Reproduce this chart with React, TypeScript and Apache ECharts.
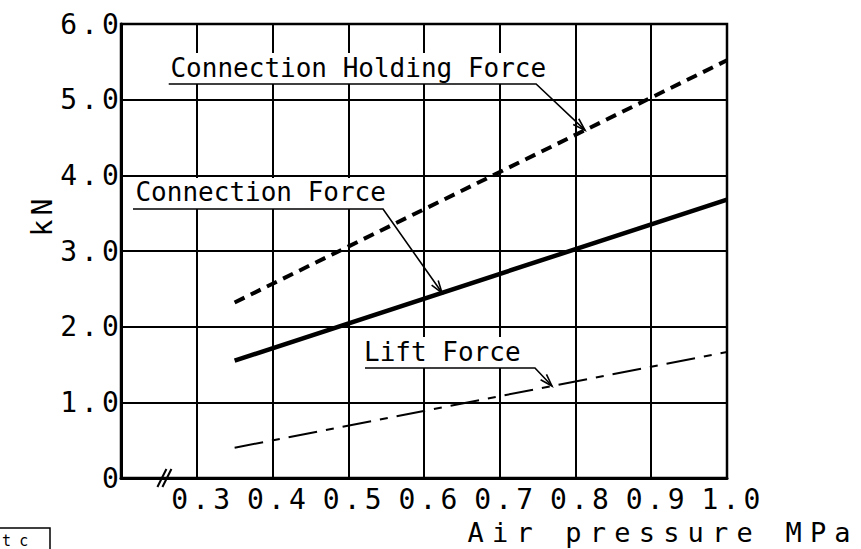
import React, { useEffect, useRef } from 'react';
import * as echarts from 'echarts';

// ---- data ----
const pressure = [0.35, 1.0]; // MPa
const holdingForce = [2.32, 5.52]; // kN, Connection Holding Force
const connectionForce = [1.55, 3.68]; // kN, Connection Force
const liftForce = [0.4, 1.665]; // kN, Lift Force

const xTicks = [0.3, 0.4, 0.5, 0.6, 0.7, 0.8, 0.9, 1.0];
const xTickLabels = ['0.3', '0.4', '0.5', '0.6', '0.7', '0.8', '0.9', '1.0'];
const yTicks = [0, 1, 2, 3, 4, 5, 6];
const yTickLabels = ['0', '1.0', '2.0', '3.0', '4.0', '5.0', '6.0'];

const seriesNames = ['Connection Holding Force', 'Connection Force', 'Lift Force'];
const xAxisTitle = 'Air pressure MPa';
const yAxisTitle = 'kN';
const cornerStamp = 'tc';

// ---- annotation layout (data space) ----
const annoLayout = [
  { text: [0.2653, 5.425], underline: [0.263, 0.748, 5.207], tipX: 0.8125 },
  { text: [0.2191, 3.78], underline: [0.2158, 0.5459, 3.555], tipX: 0.6238 },
  { text: [0.5208, 1.665], underline: [0.5221, 0.7465, 1.454], tipX: 0.769 },
];

const MONO = "'DejaVu Sans Mono', monospace";
const MONO_WIDE = "'DejaVu Sans Mono', 'Liberation Mono', monospace";

const css = `
text[style*="28px"] { letter-spacing: 4.1px; }
text[style*="Liberation Mono"] { letter-spacing: 8.2px; }
`;

function lookup(v: number, ticks: number[], labels: string[]) {
  for (let i = 0; i < ticks.length; i++) if (Math.abs(v - ticks[i]) < 1e-6) return labels[i];
  return '';
}

function valueAt(xs: number[], ys: number[], x: number) {
  for (let i = 0; i < xs.length - 1; i++) {
    if (x >= xs[i] && x <= xs[i + 1]) {
      const t = (x - xs[i]) / (xs[i + 1] - xs[i]);
      return ys[i] + t * (ys[i + 1] - ys[i]);
    }
  }
  return ys[ys.length - 1];
}

function textStyle(text: string, fontFamily: string, fontSize: number) {
  return {
    text, fontFamily, fontSize, fill: '#000',
    align: 'left', verticalAlign: 'middle', textAlign: 'left', textVerticalAlign: 'middle',
  };
}

export default function App() {
  const ref = useRef<HTMLDivElement>(null);
  useEffect(() => {
    const el = ref.current!;
    const chart = echarts.init(el, null, { renderer: 'svg' });
    const seriesData = [holdingForce, connectionForce, liftForce];
    const lineStyles: any[] = [
      { color: '#000', width: 4, type: [11, 7] },
      { color: '#000', width: 4.5, type: 'solid' },
      { color: '#000', width: 2, type: [29, 9, 8, 9] },
    ];
    chart.setOption({
      animation: false,
      backgroundColor: '#fff',
      grid: {
        left: 121, top: 24, right: 134, bottom: 71,
        show: true, borderColor: '#000', borderWidth: 2.5, backgroundColor: 'transparent',
      },
      xAxis: {
        type: 'value', min: 0.2, max: 1.0, interval: 0.1,
        axisLine: { lineStyle: { color: '#000', width: 3 } },
        axisTick: { show: false },
        axisLabel: {
          formatter: (v: number) => lookup(v, xTicks, xTickLabels),
          fontFamily: MONO, fontSize: 28, color: '#000', margin: 7.5,
          padding: [0, 0, 0, 12],
        },
        splitLine: { show: true, lineStyle: { color: '#000', width: 2 } },
      },
      yAxis: {
        type: 'value', min: 0, max: 6, interval: 1,
        axisLine: { show: true, lineStyle: { color: '#000', width: 3 } },
        axisTick: { show: false },
        axisLabel: {
          formatter: (v: number) => lookup(v, yTicks, yTickLabels),
          fontFamily: MONO, fontSize: 28, color: '#000', margin: -2,
        },
        splitLine: { show: true, lineStyle: { color: '#000', width: 2 } },
      },
      series: seriesData.map((ys, i) => ({
        name: seriesNames[i],
        type: 'line',
        data: pressure.map((p, j) => [p, ys[j]]),
        symbol: 'none',
        silent: true,
        lineStyle: lineStyles[i],
        z: 3,
      })),
    });

    const px = (p: number[]) => chart.convertToPixel({ gridIndex: 0 }, p) as number[];
    const graphics: any[] = [];
    annoLayout.forEach((a, i) => {
      const t = px(a.text);
      const u0 = px([a.underline[0], a.underline[2]]);
      const u1 = px([a.underline[1], a.underline[2]]);
      const tip = px([a.tipX, valueAt(pressure, seriesData[i], a.tipX)]);
      graphics.push({
        type: 'rect', silent: true, z: 1,
        shape: { x: u0[0], y: u0[1] - 31, width: u1[0] - u0[0], height: 31 },
        style: { fill: '#fff' },
      });
      graphics.push({
        type: 'text', x: t[0], y: t[1], z: 10, silent: true,
        style: textStyle(seriesNames[i], MONO, 26),
      });
      graphics.push({
        type: 'polyline', z: 10, silent: true,
        shape: { points: [u0, u1, tip] },
        style: { stroke: '#000', lineWidth: 1.6, fill: null },
      });
      const dx = tip[0] - u1[0], dy = tip[1] - u1[1];
      const len = Math.hypot(dx, dy);
      const ux = dx / len, uy = dy / len;
      const ang = (18 * Math.PI) / 180, L = 13;
      const w1 = [tip[0] - L * (ux * Math.cos(ang) - uy * Math.sin(ang)), tip[1] - L * (ux * Math.sin(ang) + uy * Math.cos(ang))];
      const w2 = [tip[0] - L * (ux * Math.cos(-ang) - uy * Math.sin(-ang)), tip[1] - L * (ux * Math.sin(-ang) + uy * Math.cos(-ang))];
      graphics.push({
        type: 'polyline', z: 10, silent: true,
        shape: { points: [w1, tip, w2] },
        style: { stroke: '#000', lineWidth: 1.6, fill: null },
      });
    });

    // axis break mark
    const b = px([0.256, 0]);
    [[-6, 1], [-1, 6]].forEach(([a0, a1]) => {
      graphics.push({
        type: 'line', z: 10, silent: true,
        shape: { x1: b[0] + a0, y1: b[1] + 9, x2: b[0] + a1 + 2, y2: b[1] - 9 },
        style: { stroke: '#000', lineWidth: 2 },
      });
    });

    // axis titles
    graphics.push({
      type: 'text', x: 467.5, y: 532.5, z: 10, silent: true,
      style: textStyle(xAxisTitle, MONO_WIDE, 27),
    });
    graphics.push({
      type: 'text', x: 42, y: 236.5, rotation: Math.PI / 2, z: 10, silent: true,
      style: textStyle(yAxisTitle, MONO, 28),
    });

    // cropped stamp in the bottom-left corner
    graphics.push({
      type: 'rect', z: 10, silent: true,
      shape: { x: -2, y: 528, width: 52, height: 40 },
      style: { stroke: '#000', lineWidth: 1.5, fill: null },
    });
    graphics.push({
      type: 'text', x: 2, y: 540.5, z: 10, silent: true,
      style: textStyle(cornerStamp, MONO_WIDE, 15),
    });

    chart.setOption({ graphic: graphics });
    return () => chart.dispose();
  }, []);

  return (
    <>
      <style>{css}</style>
      <div
        ref={ref}
        style={{ position: 'fixed', left: 0, top: 0, width: 861, height: 549, background: '#fff' }}
      />
    </>
  );
}
